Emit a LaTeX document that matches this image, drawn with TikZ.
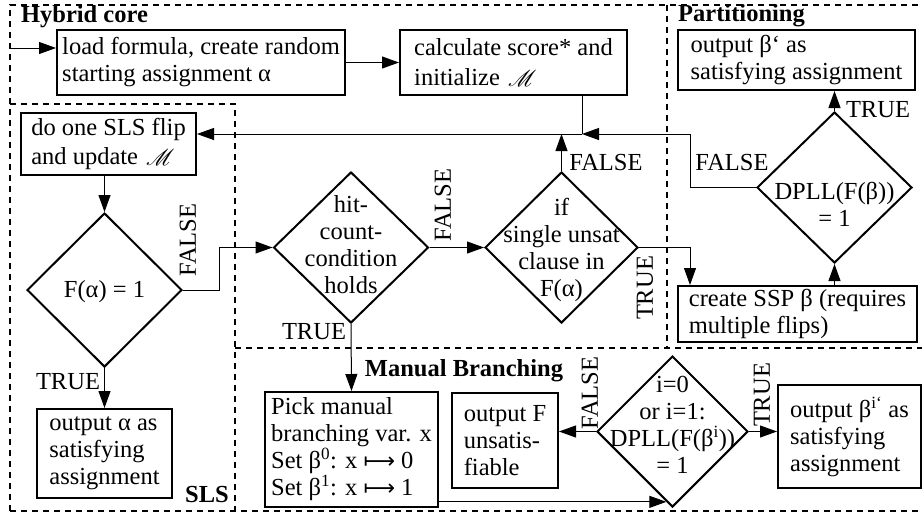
\documentclass[tikz,border=0pt]{standalone}
\usepackage{fontspec}
\setmainfont{Liberation Serif}
\newfontfamily\symfont{DejaVu Sans}
\usepackage{mathrsfs}
\usetikzlibrary{arrows.meta,shapes.geometric}
\newcommand{\mapsarrow}{{\symfont\fontsize{22}{27}\selectfont ⟼}}
\newcommand{\scrM}{\raisebox{-1pt}{\scalebox{0.92}{$\mathscr{M}$}}}
\begin{document}
\begin{tikzpicture}[x=1pt,y=-1pt,
  every node/.style={font=\fontsize{24.5}{27}\selectfont},
  box/.style={draw,line width=2pt,align=left,inner sep=0pt},
  dia/.style={draw,shape=diamond,line width=2pt,inner sep=0pt,aspect=1},
  txt/.style={align=center,inner sep=0pt},
  lab/.style={inner sep=0pt},
  sect/.style={inner sep=0pt,font=\fontsize{24.5}{27}\selectfont\bfseries},
  arr/.style={-{Triangle[length=17pt,width=12pt]},line width=1pt},
  plain/.style={line width=1pt},
  region/.style={line width=1.8pt,dash pattern=on 6pt off 5pt}]
\useasboundingbox (0,0) rectangle (922,512);
% regions
\draw[region] (10,511) -- (10,5) -- (922,5);
\draw[region] (10,511) -- (922,511);
\draw[region] (10,104) -- (235,104) -- (235,511);
\draw[region] (235,348) -- (922,348);
\draw[region] (667,5) -- (667,348);
% section labels
\node[sect] (hc) at (84.5,17) {Hybrid core};
\node[sect] (pt) at (741.5,16) {Partitioning};
\node[sect] (sl) at (207,495) {SLS};
\node[sect] (mb) at (464,371) {Manual Branching};
% boxes
\node[box,minimum width=288pt,minimum height=65pt] (load) at (201,62.5) {load formula, create random\\starting assignment α};
\node[box,minimum width=227pt,minimum height=65pt,font=\fontsize{24.5}{30}\selectfont] (calc) at (513.5,62.5) {calculate score* and\\initialize\,\,\scrM};
\node[box,minimum width=175pt,minimum height=62pt,font=\fontsize{24.5}{29}\selectfont] (flip) at (108.5,144) {do one SLS flip\\and update\,\,\scrM};
\node[box,minimum width=135pt,minimum height=89pt] (outa) at (104.5,453.5) {output α as\\satisfying\\assignment};
\node[box,minimum width=237pt,minimum height=60pt] (outb) at (796.5,60) {output β‘ as\\satisfying assignment};
\node[box,minimum width=239pt,minimum height=56pt] (ssp) at (797.5,314) {create SSP β (requires\\multiple flips)};
\node[box,minimum width=173pt,minimum height=115pt] (pick) at (351.5,449.5) {Pick manual\\branching var. x\\Set β\textsuperscript{0}: x \mapsarrow\ 0\\Set β\textsuperscript{1}: x \mapsarrow\ 1};
\node[box,minimum width=106pt,minimum height=95pt] (outf) at (505,440.5) {output F\\unsatis-\\fiable};
\node[box,minimum width=143pt,minimum height=103pt] (outbi) at (849.5,436.5) {output β\textsuperscript{i‘} as\\satisfying\\assignment};
% diamonds
\node[dia,minimum width=155pt,minimum height=154pt] (d1) at (104.5,290) {};
\node[txt] (d1t) at (104.5,292) {F(α) = 1};
\node[dia,minimum width=155pt,minimum height=151pt] (d2) at (351,247.5) {};
\node[txt] (d2t) at (351,245) {hit-\\count-\\condition\\holds};
\node[dia,minimum width=153pt,minimum height=151pt] (d3) at (561.5,247.5) {};
\node[txt] (d3t) at (561.5,250) {if\\single unsat\\clause in\\F(α)};
\node[dia,minimum width=155pt,minimum height=151pt] (d4) at (834.5,187.5) {};
\node[txt] (d4t) at (834.5,204) {DPLL(F(β))\\= 1};
\node[dia,minimum width=151pt,minimum height=151pt] (d5) at (672.5,431.5) {};
\node[txt] (d5t) at (672.5,425) {i=0\\or i=1:\\DPLL(F(β\textsuperscript{i}))\\= 1};
% branch labels
\node[lab,rotate=90] (f1) at (188,240) {FALSE};
\node[lab,rotate=90] (f2) at (443,205) {FALSE};
\node[lab] (f3) at (606,163) {FALSE};
\node[lab,rotate=90] (t3) at (645,288) {TRUE};
\node[lab] (f4) at (732,163) {FALSE};
\node[lab] (t4) at (878,110) {TRUE};
\node[lab] (t2) at (314,332) {TRUE};
\node[lab] (t1) at (68,382) {TRUE};
\node[lab,rotate=90] (f5) at (590,393) {FALSE};
\node[lab,rotate=90] (t5) at (762,395) {TRUE};
% connectors
\coordinate (start) at (10,48);
\coordinate (j1) at (582,134);
\coordinate (k) at (690,134);
\draw[arr] (start) -- (start -| load.west);
\draw[arr] (load.east) -- (calc.west);
\draw[plain] (calc.south -| j1) -- (j1);
\draw[arr] (d4.west) -| (k) -- (j1);
\draw[arr] (d3.north) -- (d3.north |- j1);
\draw[arr] (j1) -- (flip.east |- j1);
\draw[arr] (flip.south -| d1.north) -- (d1.north);
\draw[arr] (d1.south) -- (outa.north);
\draw[arr] (d1.east) -- ++(36,0) |- (d2.west);
\draw[arr] (d2.east) -- (d3.west);
\draw[arr] (d3.east) -| (k |- ssp.north);
\draw[arr] (ssp.north -| d4.south) -- (d4.south);
\draw[arr] (d4.north) -- (d4.north |- outb.south);
\draw[arr] (d2.south) -- (pick.north);
\draw[arr] (pick.east |- d5.265) -- (d5.265);
\draw[arr] (d5.west) -- (d5.west -| outf.east);
\draw[arr] (d5.east) -- (d5.east -| outbi.west);
\end{tikzpicture}
\end{document}
